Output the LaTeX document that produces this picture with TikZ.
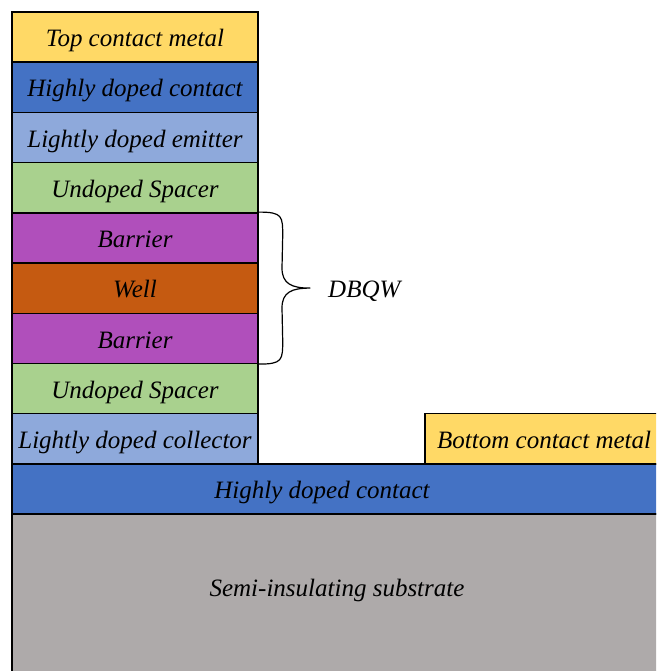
\documentclass[tikz,border=0pt]{standalone}
\usepackage{fontspec}
\setmainfont{Liberation Serif}
\usetikzlibrary{calc}
\definecolor{metal}{HTML}{FFD966}
\definecolor{heavy}{HTML}{4472C4}
\definecolor{light}{HTML}{8EA9DB}
\definecolor{spacer}{HTML}{A9D18E}
\definecolor{barrier}{HTML}{B04FBB}
\definecolor{well}{HTML}{C55A11}
\definecolor{subst}{HTML}{AEAAAA}
\tikzset{
  txt/.style={font=\fontsize{25}{28}\selectfont\itshape, text height=22pt, text depth=2.6pt},
  layer/.style={txt, draw=black, line width=1.4pt, rectangle, inner sep=0pt,
    minimum width=246pt, minimum height=50.2pt},
  lbl/.style={txt, inner sep=0pt},
  slab/.style={draw=black, line width=1.4pt}
}
\begin{document}
\begin{tikzpicture}[x=1pt,y=-1pt]
\useasboundingbox (0,0) rectangle (656,671);
\clip (0,0) rectangle (656,671);
% wide base layers
\draw[slab, fill=subst] (12,514) rectangle (700,720);
\draw[slab, fill=heavy] (12,463.8) rectangle (700,514);
\draw[slab, fill=metal] (425,413.6) rectangle (700,463.8);
\node[lbl] (sub) at (337,587) {Semi-insulating substrate};
\node[lbl] (hdc2) at (322,488.9) {Highly doped contact};
\node[lbl, anchor=west] (bcm) at (437,438.7) {Bottom contact metal};
% mesa stack
\node[layer, fill=metal]   (tcm) at (135,37.1)  {Top contact metal};
\node[layer, fill=heavy]   (hdc) at (135,87.3)  {Highly doped contact};
\node[layer, fill=light]   (lde) at (135,137.5) {Lightly doped emitter};
\node[layer, fill=spacer]  (us1) at (135,187.7) {Undoped Spacer};
\node[layer, fill=barrier] (b1)  at (135,237.9) {Barrier};
\node[layer, fill=well]    (w)   at (135,288.1) {Well};
\node[layer, fill=barrier] (b2)  at (135,338.3) {Barrier};
\node[layer, fill=spacer]  (us2) at (135,388.5) {Undoped Spacer};
\node[layer, fill=light]   (ldc) at (135,438.7) {Lightly doped collector};
% brace around the double barrier
\coordinate (bt) at (b1.north east);
\coordinate (bb) at (b2.south east);
\draw[line width=1.2pt, line cap=round]
  (bt) .. controls ($(bt)+(24,0)$) and ($(bt)+(24,4)$) .. ($(bt)+(24,24)$)
  -- (282,268)
  .. controls (282,284) and (292,288.1) .. (310,288.1)
  (bb) .. controls ($(bb)+(24,0)$) and ($(bb)+(24,-4)$) .. ($(bb)+(24,-24)$)
  -- (282,308)
  .. controls (282,292) and (292,288.1) .. (310,288.1);
\node[lbl, anchor=west] (dbqw) at (328,288.1) {DBQW};
\end{tikzpicture}
\end{document}
